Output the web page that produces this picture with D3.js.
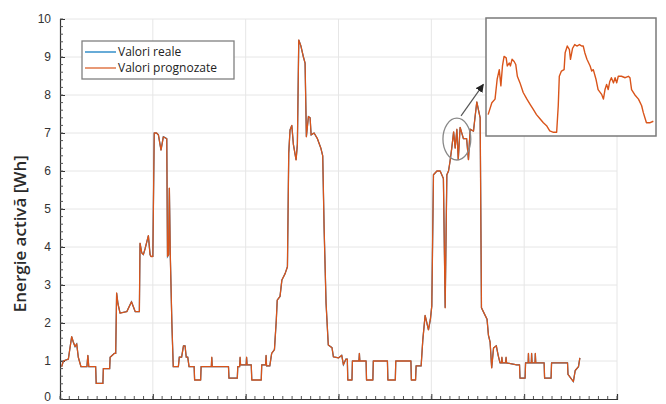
<!DOCTYPE html>
<html>
<head>
<meta charset="utf-8">
<script src="https://cdn.jsdelivr.net/npm/d3@7"></script>
<style>
  body { margin: 0; background: #fff; }
  svg { display: block; font-family: "Open Sans", sans-serif; }
</style>
</head>
<body>
<svg id="chart" width="666" height="404"></svg>
<script>
// values: [time, energy Wh]
const valoriPrognozate = [
  [0.018,0.85],[0.036,1.0],[0.09,1.05],[0.108,1.35],[0.126,1.64],[0.143,1.5],[0.162,1.38],[0.18,1.45],[0.197,1.1],[0.226,0.85],
  [0.29,0.85],[0.3,1.15],[0.31,0.85],[0.384,0.85],[0.39,0.41],[0.462,0.41],[0.467,0.8],[0.535,0.8],[0.54,1.1],[0.585,1.2],
  [0.6,1.2],[0.61,2.79],[0.625,2.5],[0.647,2.26],[0.72,2.3],[0.77,2.56],[0.81,2.3],[0.855,2.3],[0.862,4.1],[0.88,3.85],
  [0.898,3.8],[0.916,3.95],[0.952,4.3],[0.97,3.8],[0.98,3.75],[1.0,3.75],[1.015,7.0],[1.04,7.0],[1.06,6.95],[1.088,6.55],
  [1.113,6.9],[1.15,6.85],[1.158,3.75],[1.17,3.8],[1.178,5.55],[1.188,3.8],[1.205,2.0],[1.22,0.85],[1.275,0.85],[1.285,1.1],
  [1.31,1.1],[1.33,1.4],[1.347,1.4],[1.36,1.1],[1.376,1.1],[1.39,0.85],[1.445,0.85],[1.45,0.5],[1.515,0.5],[1.52,0.85],
  [1.63,0.85],[1.635,1.1],[1.64,0.85],[1.815,0.85],[1.82,0.55],[1.91,0.55],[1.915,0.85],[1.935,0.85],[1.94,1.1],[1.945,0.9],
  [2.005,0.9],[2.01,1.1],[2.015,0.9],[2.06,0.9],[2.066,0.5],[2.168,0.5],[2.173,0.9],[2.215,0.9],[2.22,1.15],[2.225,0.87],
  [2.26,0.87],[2.28,1.2],[2.31,1.3],[2.33,2.08],[2.34,2.6],[2.37,2.7],[2.39,3.13],[2.425,3.3],[2.45,3.48],[2.464,6.47],
  [2.478,7.08],[2.497,7.2],[2.514,6.7],[2.543,6.29],[2.557,6.7],[2.572,9.45],[2.594,9.3],[2.622,9.0],[2.64,8.84],[2.654,6.9],
  [2.676,7.43],[2.694,7.4],[2.705,6.95],[2.737,7.0],[2.773,6.85],[2.81,6.6],[2.83,6.4],[2.845,4.5],[2.866,2.52],[2.89,1.42],
  [2.93,1.35],[2.945,1.11],[3.0,1.08],[3.035,1.15],[3.053,0.9],[3.08,1.05],[3.095,1.05],[3.1,0.5],[3.145,0.5],[3.15,1.0],
  [3.22,1.0],[3.225,1.2],[3.23,1.0],[3.297,1.0],[3.302,0.5],[3.37,0.5],[3.375,1.0],[3.527,1.0],[3.532,0.5],[3.612,0.5],
  [3.617,1.0],[3.78,1.0],[3.785,0.5],[3.83,0.5],[3.836,0.87],[3.89,0.87],[3.908,1.55],[3.933,2.2],[3.969,1.82],[3.99,2.1],
  [4.005,2.45],[4.023,5.9],[4.06,6.0],[4.095,6.0],[4.13,5.8],[4.149,2.4],[4.167,5.9],[4.185,6.0],[4.2,6.23],[4.22,6.6],
  [4.24,7.03],[4.257,6.6],[4.275,7.1],[4.29,6.3],[4.31,7.15],[4.346,6.85],[4.38,6.85],[4.4,6.3],[4.418,7.1],[4.454,7.05],
  [4.47,7.4],[4.49,7.82],[4.508,7.6],[4.526,7.4],[4.54,2.4],[4.58,2.2],[4.6,2.1],[4.615,1.68],[4.633,1.5],[4.65,0.82],
  [4.67,1.34],[4.7,1.4],[4.72,1.15],[4.74,0.95],[4.755,0.95],[4.76,1.1],[4.765,0.95],[4.8,0.95],[4.805,1.1],[4.81,0.95],
  [4.92,0.9],[4.95,0.9],[4.955,0.55],[5.01,0.55],[5.015,0.95],[5.043,0.95],[5.046,1.2],[5.05,0.95],[5.077,0.95],[5.08,1.2],
  [5.085,0.95],[5.117,0.95],[5.12,1.2],[5.125,0.95],[5.215,0.95],[5.22,0.55],[5.29,0.55],[5.295,0.95],[5.467,0.95],[5.472,0.65],
  [5.53,0.46],[5.55,0.75],[5.585,0.85],[5.6,1.08]
];
// the real values sit right under the forecast in the picture
const valoriReale = valoriPrognozate;

// zoomed detail shown in the inset
const detaliuZoom = [
  [4.124,6.29],[4.131,6.45],[4.137,6.50],[4.141,6.77],[4.145,6.90],[4.148,6.68],[4.151,6.95],[4.154,7.08],[4.158,7.06],[4.160,6.95],
  [4.164,6.99],[4.166,6.95],[4.169,7.04],[4.173,7.01],[4.176,6.97],[4.179,6.81],[4.184,6.72],[4.19,6.59],[4.197,6.50],[4.203,6.43],
  [4.209,6.36],[4.215,6.29],[4.222,6.23],[4.228,6.18],[4.234,6.14],[4.24,6.07],[4.247,6.05],[4.253,6.05],[4.256,6.41],[4.258,6.81],
  [4.262,6.88],[4.267,6.90],[4.269,7.13],[4.273,7.22],[4.277,7.17],[4.279,7.04],[4.283,7.19],[4.287,7.24],[4.291,7.22],[4.296,7.24],
  [4.3,7.22],[4.303,7.22],[4.306,7.13],[4.31,7.04],[4.316,6.95],[4.319,6.88],[4.322,6.90],[4.327,6.77],[4.331,6.63],[4.338,6.56],
  [4.341,6.50],[4.344,6.63],[4.347,6.70],[4.35,6.63],[4.353,6.74],[4.356,6.79],[4.36,6.72],[4.363,6.79],[4.366,6.72],[4.369,6.81],
  [4.375,6.81],[4.382,6.79],[4.388,6.81],[4.391,6.79],[4.394,6.63],[4.4,6.56],[4.407,6.50],[4.413,6.41],[4.416,6.32],[4.422,6.18],
  [4.429,6.18],[4.435,6.20]
];

const yTicks = [0,1,2,3,4,5,6,7,8,9,10];
const xTicks = [0,1,2,3,4,5,6];
const legendNames = ["Valori reale", "Valori prognozate"];
const colors = ["#0072bd", "#d9541a"];

const margin = { top: 19, right: 49, bottom: 5, left: 60 },
    width = 666 - margin.left - margin.right,
    height = 404 - margin.top - margin.bottom;

const svg = d3.select("#chart");
const g = svg.append("g").attr("transform", "translate(" + margin.left + "," + margin.top + ")");

const x = d3.scaleLinear().domain([0, 6]).range([0, width]);
const y = d3.scaleLinear().domain([0, 10]).range([height, 0]);

// grid
g.append("g").selectAll("line").data(yTicks.slice(1)).join("line")
    .attr("x1", 0).attr("x2", width)
    .attr("y1", d => y(d)).attr("y2", d => y(d))
    .attr("stroke", "#e6e6e6").attr("stroke-width", 1);
g.append("g").selectAll("line").data(xTicks.slice(1)).join("line")
    .attr("x1", d => x(d)).attr("x2", d => x(d))
    .attr("y1", 0).attr("y2", height)
    .attr("stroke", "#e6e6e6").attr("stroke-width", 1);

// axes, ticks inward like matlab
const yAxis = g.append("g")
    .call(d3.axisLeft(y).tickValues(yTicks).tickSize(-5).tickPadding(9).tickFormat(d3.format("d")));
const xAxis = g.append("g").attr("transform", "translate(0," + height + ")")
    .call(d3.axisBottom(x).tickValues(xTicks).tickSize(-5).tickFormat(""));
[yAxis, xAxis].forEach(a => {
    a.select(".domain").attr("stroke", "#333").attr("stroke-width", 1.2);
    a.selectAll(".tick line").attr("stroke", "#333");
    a.selectAll("text").attr("fill", "#333").attr("font-size", 12);
});
// the 0 label sits at the very bottom edge, lift it a touch
yAxis.selectAll(".tick").filter(d => d === 0).select("text").attr("dy", "0.1em");

// minor ticks
g.append("g").selectAll("line").data(d3.range(0, 10.01, 0.2)).join("line")
    .attr("x1", 0).attr("x2", 3)
    .attr("y1", d => y(d)).attr("y2", d => y(d))
    .attr("stroke", "#555");
g.append("g").selectAll("line").data(d3.range(0, 6.01, 0.1)).join("line")
    .attr("x1", d => x(d)).attr("x2", d => x(d))
    .attr("y1", height).attr("y2", height - 3)
    .attr("stroke", "#555");

g.append("text")
    .attr("transform", "translate(-34," + y(4.35) + ") rotate(-90)")
    .attr("text-anchor", "middle")
    .attr("font-size", 17)
    .attr("font-weight", 600)
    .attr("fill", "#2a2a2a")
    .text("Energie activă [Wh]");

// series
const line = d3.line().x(d => x(d[0])).y(d => y(d[1]));
g.append("path").datum(valoriReale)
    .attr("fill", "none").attr("stroke", colors[0]).attr("stroke-width", 1.2)
    .attr("d", line);
g.append("path").datum(valoriPrognozate)
    .attr("fill", "none").attr("stroke", colors[1]).attr("stroke-width", 1.3)
    .attr("stroke-linejoin", "round")
    .attr("d", line);

// circle round the zoomed part
g.append("ellipse")
    .attr("cx", x(4.275)).attr("cy", y(6.84))
    .attr("rx", x(4.275) - x(4.125)).attr("ry", y(6.29) - y(6.84))
    .attr("fill", "none").attr("stroke", "#888").attr("stroke-width", 1.3);

// inset box
const inset = { x: 426, y: -1, w: 170, h: 118 };
const ix = d3.scaleLinear().domain([4.12, 4.44]).range([inset.x, inset.x + inset.w]);
const iy = d3.scaleLinear().domain([6.0, 7.6]).range([inset.y + inset.h, inset.y]);
g.append("rect")
    .attr("x", inset.x).attr("y", inset.y).attr("width", inset.w).attr("height", inset.h)
    .attr("fill", "#fff").attr("stroke", "#7a7a7a").attr("stroke-width", 1.5);
g.append("path").datum(detaliuZoom)
    .attr("fill", "none").attr("stroke", colors[1]).attr("stroke-width", 1.4)
    .attr("stroke-linejoin", "round")
    .attr("d", d3.line().x(d => ix(d[0])).y(d => iy(d[1])));

// arrow
svg.append("defs").append("marker")
    .attr("id", "head").attr("viewBox", "0 0 10 10").attr("refX", 9).attr("refY", 5)
    .attr("markerWidth", 7).attr("markerHeight", 7).attr("orient", "auto")
    .append("path").attr("d", "M0,0L10,5L0,10z").attr("fill", "#222");
g.append("line")
    .attr("x1", x(4.32)).attr("y1", y(7.45))
    .attr("x2", ix(4.115)).attr("y2", iy(6.7))
    .attr("stroke", "#555").attr("stroke-width", 1.2)
    .attr("marker-end", "url(#head)");

// legend
const legend = g.append("g").attr("transform", "translate(22,22)");
legend.append("rect").attr("width", 152).attr("height", 38)
    .attr("fill", "#fff").attr("stroke", "#808080").attr("stroke-width", 1.3);
legendNames.forEach((name, i) => {
    const row = legend.append("g").attr("transform", "translate(0," + (11 + i * 16) + ")");
    row.append("line").attr("x1", 3).attr("x2", 34).attr("stroke", colors[i]).attr("stroke-width", 1.2);
    row.append("text").attr("x", 36).attr("y", 4).attr("font-size", 12).attr("fill", "#222").text(name);
});
</script>
</body>
</html>
